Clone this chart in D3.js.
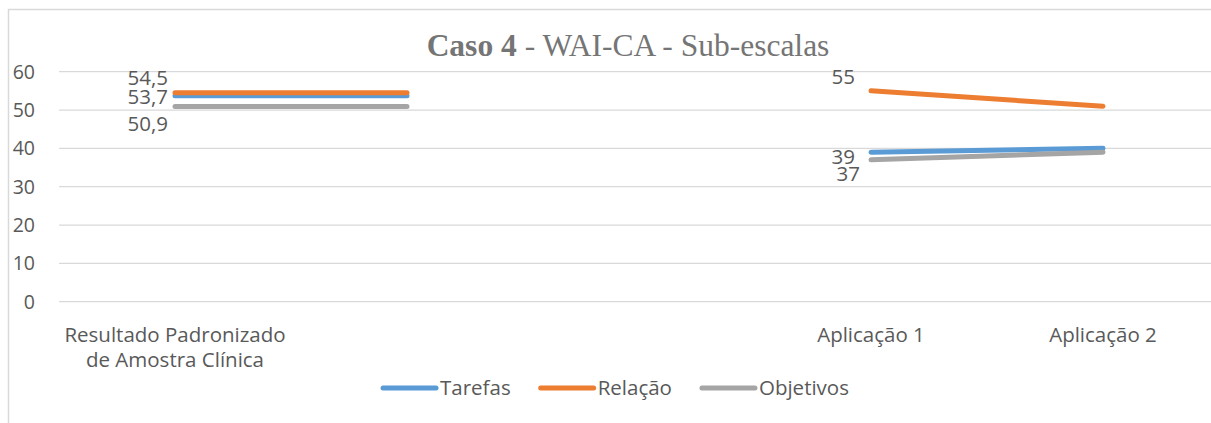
<!DOCTYPE html>
<html>
<head>
<meta charset="utf-8">
<script src="https://cdn.jsdelivr.net/npm/d3@7"></script>
<style>
  body { margin: 0; background: #fff; overflow: hidden; }
  text { font-family: "Open Sans", sans-serif; fill: #595959; }
</style>
</head>
<body>
<svg id="chart" width="1211" height="423"></svg>
<script>
// categories (two blank slots between the reference value and the applications)
var categories = ["Resultado Padronizado\nde Amostra Clínica", "", "", "Aplicação 1", "Aplicação 2"];

var tarefas   = [53.7, 53.7, null, 39, 40];
var relacao   = [54.5, 54.5, null, 55, 51];
var objetivos = [50.9, 50.9, null, 37, 39];

var seriesNames = ["Tarefas", "Relação", "Objetivos"];
var yTicks = [0, 10, 20, 30, 40, 50, 60];

var colors = { "Tarefas": "#5b9bd5", "Relação": "#ed7d31", "Objetivos": "#a5a5a5" };

// label nudges, [dx, dy] per series and point index
var labelNudge = {
  "Tarefas":   { 0: [-7, 1], 3: [-16, 4] },
  "Relação":   { 0: [-7, -15], 3: [-16, -14] },
  "Objetivos": { 0: [-7, 17], 3: [-11, 14] }
};

function plot_all() {
    var svg = d3.select("#chart");
    var data = [
        { name: "Tarefas", values: tarefas },
        { name: "Relação", values: relacao },
        { name: "Objetivos", values: objetivos }
    ];

    var x = d3.scaleBand().domain(d3.range(categories.length)).range([59, 1219]);
    var y = d3.scaleLinear().domain([0, 60]).range([301.7, 71.7]);
    var cx = function(i) { return x(i) + x.bandwidth() / 2; };

    // chart border (only top and left edges fall inside the picture)
    svg.append("path")
        .attr("d", "M8.5,430V9.5H1220")
        .attr("fill", "none").attr("stroke", "#d9d9d9").attr("stroke-width", 1.5);

    // gridlines + y labels
    svg.selectAll(".grid").data(yTicks).enter().append("line")
        .attr("class", "grid")
        .attr("x1", 59).attr("x2", 1219)
        .attr("y1", function(d) { return y(d); })
        .attr("y2", function(d) { return y(d); })
        .attr("stroke", "#d9d9d9").attr("stroke-width", 1.3);

    svg.selectAll(".ylab").data(yTicks).enter().append("text")
        .attr("class", "ylab")
        .attr("x", 35)
        .attr("y", function(d) { return y(d); })
        .attr("dy", "0.36em")
        .attr("text-anchor", "end")
        .style("font-size", "19.5px")
        .text(function(d) { return d; });

    // x labels
    categories.forEach(function(c, i) {
        var t = svg.append("text")
            .attr("text-anchor", "middle")
            .attr("x", cx(i))
            .attr("y", 342)
            .style("font-size", "20.5px");
        c.split("\n").forEach(function(line, k) {
            t.append("tspan").attr("x", cx(i)).attr("dy", k ? 24.5 : 0).text(line);
        });
    });

    // title
    var title = svg.append("text")
        .attr("x", 628).attr("y", 56)
        .attr("text-anchor", "middle")
        .style("font-family", "'Liberation Serif', 'Times New Roman', serif")
        .style("font-size", "31.5px")
        .style("fill", "#757575");
    title.append("tspan").style("font-weight", "bold").text("Caso 4");
    title.append("tspan").text(" - WAI-CA - Sub-escalas");

    // lines
    var line = d3.line()
        .defined(function(d) { return d != null; })
        .x(function(d, i) { return cx(i); })
        .y(function(d) { return y(d); });

    svg.selectAll(".series").data(data).enter().append("path")
        .attr("class", "series")
        .attr("d", function(d) { return line(d.values); })
        .attr("fill", "none")
        .attr("stroke", function(d) { return colors[d.name]; })
        .attr("stroke-width", 5)
        .attr("stroke-linecap", "round")
        .attr("stroke-linejoin", "round");

    // data labels
    data.forEach(function(s) {
        var nudges = labelNudge[s.name];
        Object.keys(nudges).forEach(function(k) {
            var i = +k, v = s.values[i];
            svg.append("text")
                .attr("x", cx(i) + nudges[k][0])
                .attr("y", y(v) + nudges[k][1])
                .attr("dy", "0.36em")
                .attr("text-anchor", "end")
                .style("font-size", "20.5px")
                .text(String(v).replace(".", ","));
        });
    });

    // legend
    var legend = svg.append("g");
    var xpos = 0;
    seriesNames.forEach(function(n) {
        var g = legend.append("g").attr("transform", "translate(" + xpos + ",0)");
        g.append("line")
            .attr("x1", 2).attr("x2", 55).attr("y1", 0).attr("y2", 0)
            .attr("stroke", colors[n]).attr("stroke-width", 5)
            .attr("stroke-linecap", "round");
        var t = g.append("text")
            .attr("x", 59).attr("y", 0).attr("dy", "0.36em")
            .style("font-size", "20.5px")
            .text(n);
        xpos += 59 + t.node().getComputedTextLength() + 28;
    });
    var total = xpos - 28;
    legend.attr("transform", "translate(" + (615 - total / 2) + ",388)");
}

plot_all();
</script>
</body>
</html>
